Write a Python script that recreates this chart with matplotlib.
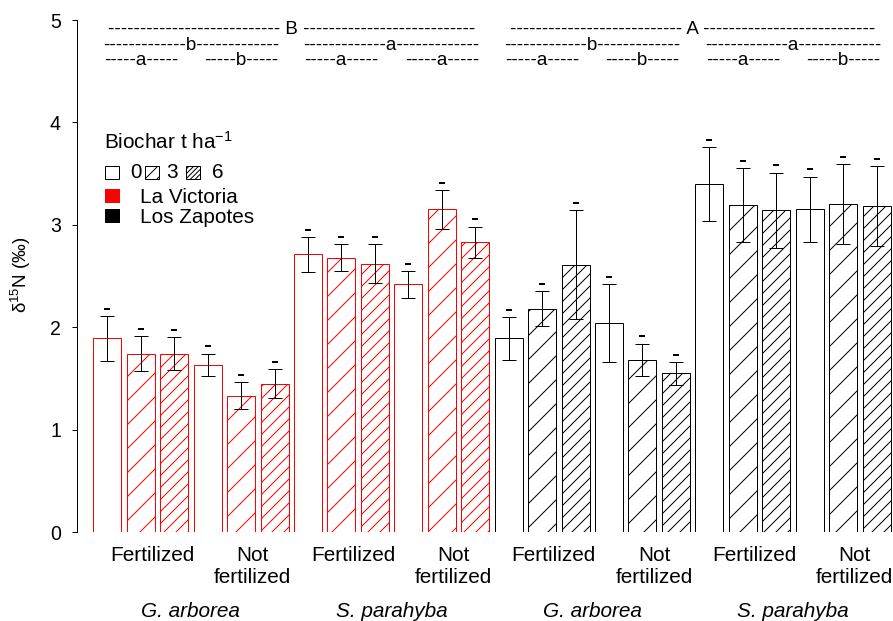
import matplotlib
matplotlib.use('Agg')
import matplotlib.pyplot as plt
from matplotlib.patches import Rectangle
import numpy as np

# dpi 72 -> one point is one pixel, and hatch spacing matches the reference
DPI = 72
W, H = 893, 621

def pt(px):
    # pixel size -> points at the output dpi
    return px * 72 / DPI

plt.rcParams['font.family'] = ['Liberation Sans', 'DejaVu Sans']
plt.rcParams['mathtext.fontset'] = 'custom'
plt.rcParams['mathtext.rm'] = 'Liberation Sans'
plt.rcParams['mathtext.it'] = 'Liberation Sans:italic'
plt.rcParams['hatch.linewidth'] = pt(1.0)

# Data: order = site > species > fertilization > biochar (0, 3, 6)
sites = ['La Victoria', 'Los Zapotes']
site_colors = ['#ff0000', '#000000']
species = ['G. arborea', 'S. parahyba']
fert_labels = ['Fertilized', 'Not fertilized']
biochar = ['0', '3', '6']
biochar_hatch = ['', '/', '//']

means = [1.89, 1.74, 1.74, 1.63, 1.33, 1.45,
         2.71, 2.68, 2.62, 2.42, 3.15, 2.83,
         1.89, 2.18, 2.61, 2.04, 1.68, 1.55,
         3.40, 3.19, 3.14, 3.15, 3.20, 3.18]
se = [0.22, 0.17, 0.16, 0.11, 0.13, 0.14,
      0.17, 0.13, 0.19, 0.13, 0.19, 0.15,
      0.21, 0.17, 0.53, 0.38, 0.16, 0.11,
      0.36, 0.36, 0.37, 0.32, 0.39, 0.39]

letters_fert = ['a', 'b', 'a', 'a', 'a', 'b', 'a', 'b']
letters_species = ['b', 'a', 'b', 'a']
letters_site = ['B', 'A']

fig = plt.figure(figsize=(W / DPI, H / DPI), dpi=DPI)
ax = fig.add_axes([77 / W, 89 / H, 816 / W, 512 / H])

n = len(means)
x = np.arange(n)
for i in range(n):
    ax.bar(x[i], means[i], width=0.837, facecolor='white',
           edgecolor=site_colors[i // 12], hatch=biochar_hatch[i % 3],
           linewidth=pt(1.0))
ax.errorbar(x, means, yerr=se, fmt='none', ecolor='black', elinewidth=pt(1.0),
            capsize=pt(7), capthick=pt(1.0))
tops = np.array(means) + np.array(se)
ax.plot(x, tops + 0.072, ls='none', marker='_', ms=pt(6), mew=pt(2), color='black')

ax.set_xlim(-0.906, 23.49)
ax.set_ylim(0, 5)
for s in ['top', 'right', 'bottom']:
    ax.spines[s].set_visible(False)
ax.spines['left'].set_linewidth(pt(1.0))
ax.spines['left'].set_bounds(0, 5)
ax.set_xticks([])
ax.set_yticks(range(6))
ax.tick_params(axis='y', length=pt(5), width=pt(1.0), pad=pt(11), labelsize=pt(19.5))

# significance letters drawn as hyphen strings
fs_let = pt(18.75)
for k, L in enumerate(letters_fert):
    ax.text(3 * k + 1, 4.56, '-' * 5 + L + '-' * 5, ha='center', va='baseline',
            fontsize=fs_let, clip_on=False)
for k, L in enumerate(letters_species):
    ax.text(6 * k + 2.5, 4.707, '-' * 13 + L + '-' * 13, ha='center', va='baseline',
            fontsize=fs_let, clip_on=False)
for k, L in enumerate(letters_site):
    ax.text(12 * k + 5.5, 4.863, '-' * 27 + ' ' + L + ' ' + '-' * 27, ha='center',
            va='baseline', fontsize=fs_let, clip_on=False)

# x labels
trans = ax.get_xaxis_transform()
fs_lab = pt(20.8)

def yax(py):
    return (532 - py) / 512

for g in range(8):
    cx = 3 * g + 1 + 0.35
    if g % 2 == 0:
        ax.text(cx, yax(561), fert_labels[0], ha='center', va='baseline',
                fontsize=fs_lab, transform=trans)
    else:
        w1, w2 = fert_labels[1].split(' ')
        ax.text(cx, yax(561), w1, ha='center', va='baseline', fontsize=fs_lab, transform=trans)
        ax.text(cx, yax(583), w2, ha='center', va='baseline', fontsize=fs_lab, transform=trans)
for s in range(4):
    ax.text(6 * s + 2.5, yax(617), species[s % 2], ha='center', va='baseline',
            fontsize=fs_lab, style='italic', transform=trans)

fig.text(21 / W, 1 - 275 / H, 'δ$^{15}$N (‰)', rotation=90, ha='center',
         va='center', fontsize=pt(18.75))

# legend
def fx(px):
    return px / W

def fy(py):
    return 1 - py / H

fig.text(fx(104), fy(149), 'Biochar t ha$^{-1}$', fontsize=fs_lab, va='baseline')
box_x = [105, 145, 186]
txt_x = [130, 166, 212]
leg_hatch = ['', '//', '/////']
for bx, tx, lab, h in zip(box_x, txt_x, biochar, leg_hatch):
    fig.add_artist(Rectangle((fx(bx), fy(179)), 14 / W, 13 / H, transform=fig.transFigure,
                             facecolor='white', edgecolor='black', lw=pt(1.0), hatch=h))
    fig.text(fx(tx), fy(178), lab, fontsize=fs_lab, va='baseline')
site_y = [(189, 203), (209, 223)]
for (y0, y1), name, c in zip(site_y, sites, site_colors):
    fig.add_artist(Rectangle((fx(105), fy(y1)), 15 / W, (y1 - y0) / H,
                             transform=fig.transFigure, facecolor=c, edgecolor='none'))
    fig.text(fx(140), fy(y1), name, fontsize=fs_lab, va='baseline')

fig.savefig('out.png', dpi=DPI)
